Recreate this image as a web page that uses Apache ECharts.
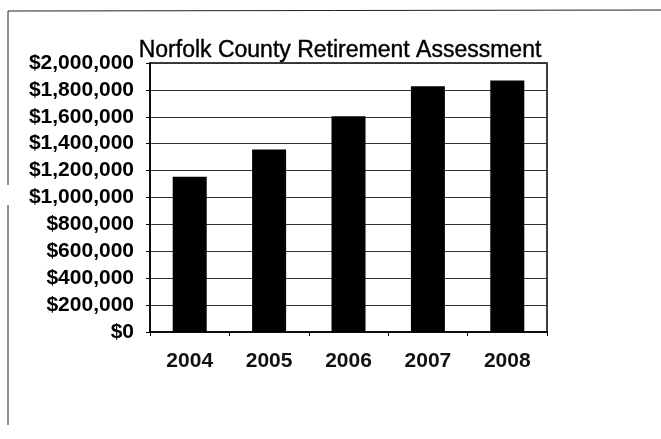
<!DOCTYPE html>
<html>
<head>
<meta charset="utf-8">
<script src="https://cdn.jsdelivr.net/npm/echarts@6/dist/echarts.min.js"></script>
<style>
  html, body { margin: 0; padding: 0; background: #fff; }
  #chart { width: 661px; height: 439px; }
</style>
</head>
<body>
<div id="chart"></div>
<script>
// Assessment amounts by fiscal year
const years = ['2004', '2005', '2006', '2007', '2008'];
const assessment = [1155000, 1357000, 1605000, 1827000, 1870000];
const yTicks = { min: 0, max: 2000000, interval: 200000 };
const titleText = 'Norfolk County Retirement Assessment';

const font = 'Arial, "Liberation Sans", sans-serif';

function money(v) {
  return '$' + v.toLocaleString('en-US');
}

const chart = echarts.init(document.getElementById('chart'), null, { renderer: 'canvas' });

chart.setOption({
  backgroundColor: '#ffffff',
  animation: false,
  title: {
    text: titleText,
    left: 335,
    top: 34,
    textAlign: 'center',
    textStyle: {
      fontFamily: font, fontSize: 23, fontWeight: 'normal', color: '#000',
      textBorderColor: '#000', textBorderWidth: 0.4
    }
  },
  grid: {
    left: 150, right: 114, top: 63, bottom: 107,
    show: true, borderColor: '#000', borderWidth: 1.5, backgroundColor: '#fff'
  },
  xAxis: {
    type: 'category',
    data: years,
    boundaryGap: true,
    axisLine: { lineStyle: { color: '#000', width: 1.5 } },
    axisTick: { show: true, length: 4, lineStyle: { color: '#000' } },
    axisLabel: { margin: 19, fontFamily: font, fontSize: 21, fontWeight: 'bold', color: '#111' }
  },
  yAxis: {
    type: 'value',
    min: yTicks.min,
    max: yTicks.max,
    interval: yTicks.interval,
    axisLine: { show: true, lineStyle: { color: '#000', width: 1.5 } },
    axisTick: { show: true, length: 4, lineStyle: { color: '#000' } },
    splitLine: { show: true, lineStyle: { color: '#333', width: 1 } },
    axisLabel: {
      margin: 16, fontFamily: font, fontSize: 21, fontWeight: 'bold', color: '#000',
      formatter: money
    }
  },
  series: [{
    type: 'bar',
    data: assessment,
    barWidth: 34,
    itemStyle: { color: '#000' }
  }],
  graphic: [
    { type: 'line', shape: { x1: 8, y1: 11, x2: 661, y2: 10 }, style: { stroke: '#222', lineWidth: 1 } },
    { type: 'line', shape: { x1: 8, y1: 11, x2: 8, y2: 185 }, style: { stroke: '#222', lineWidth: 1 } },
    { type: 'line', shape: { x1: 8, y1: 205, x2: 8, y2: 425 }, style: { stroke: '#222', lineWidth: 1 } }
  ]
});
</script>
</body>
</html>
